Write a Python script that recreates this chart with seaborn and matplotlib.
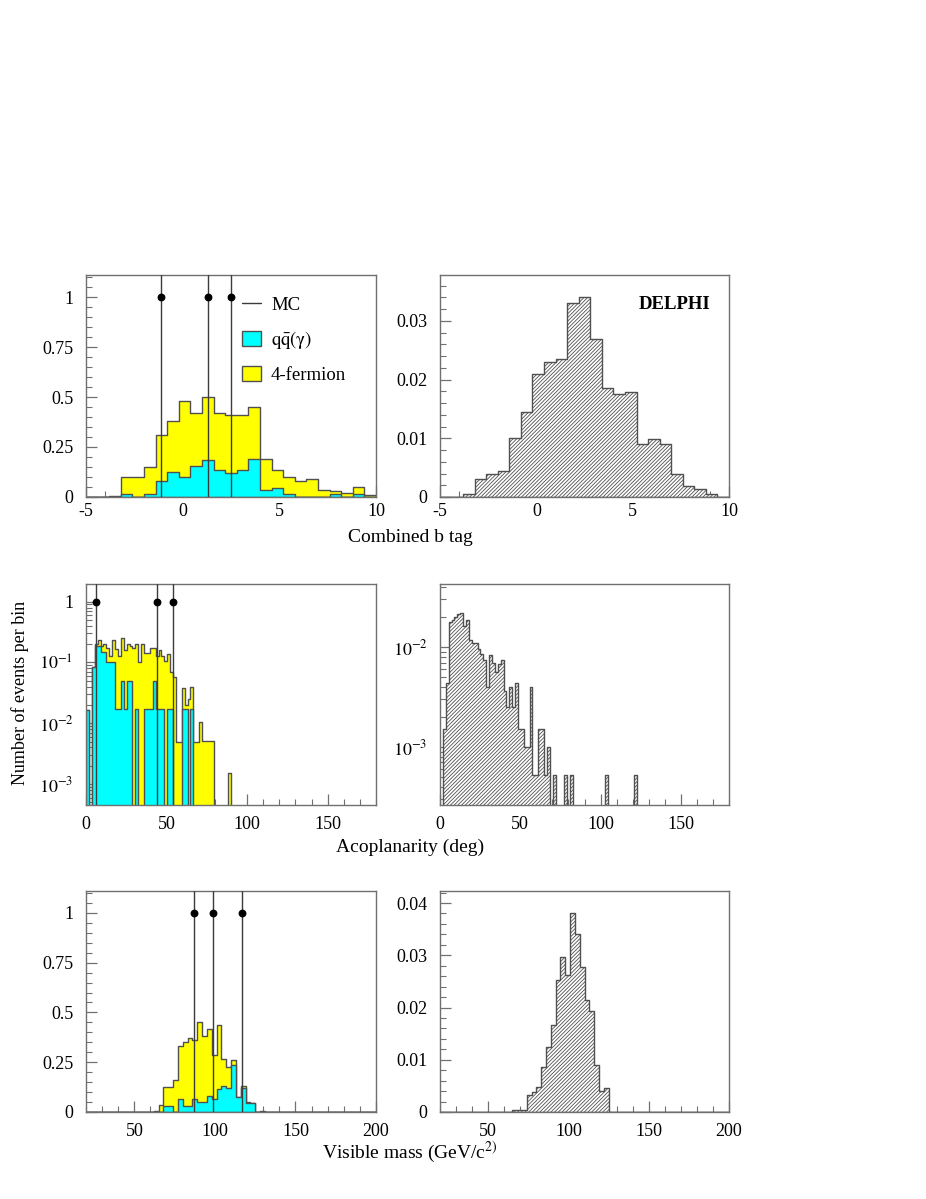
import numpy as np
import matplotlib
matplotlib.use("Agg")
import matplotlib.pyplot as plt
from matplotlib.lines import Line2D
from matplotlib.patches import Patch
from matplotlib.ticker import MultipleLocator, FixedLocator, FixedFormatter, NullFormatter, LogLocator
import seaborn as sns

# ---- combined b tag: 25 bins of 0.6 between -5 and 10
btag_edges = np.linspace(-5, 10, 26)
btag_total = [0, 0, 0.005, 0.10, 0.10, 0.148, 0.31, 0.38, 0.48, 0.42, 0.50, 0.42, 0.41,
              0.41, 0.45, 0.19, 0.135, 0.10, 0.08, 0.09, 0.035, 0.03, 0.02, 0.05, 0.01]
btag_qq = [0, 0, 0, 0.015, 0, 0.015, 0.08, 0.123, 0.10, 0.155, 0.185, 0.135, 0.118,
           0.135, 0.19, 0.035, 0.047, 0.015, 0, 0, 0, 0.015, 0, 0.015, 0]
btag_signal = [0, 0, 0.00045, 0.0030, 0.0039, 0.0045, 0.0100, 0.0144, 0.0210, 0.0230,
               0.0235, 0.0330, 0.0340, 0.0269, 0.0185, 0.0175, 0.0178, 0.0090, 0.0099,
               0.0090, 0.0040, 0.0019, 0.0014, 0.00045, 0]
btag_events = [-1.1, 1.3, 2.5]

# ---- acoplanarity: 100 bins of 1.8 deg between 0 and 180
acop_edges = np.linspace(0, 180, 101)
acop_total = [0.0163, 0, 0.083, 0.20, 0.234, 0.19, 0.20, 0.17, 0.13, 0.234,
              0.165, 0.13, 0.255, 0.16, 0.20, 0.187, 0.175, 0.20, 0.10, 0.20,
              0.146, 0.142, 0.175, 0.175, 0.128, 0.16, 0.128, 0.107, 0.137, 0.069,
              0.057, 0.005, 0.005, 0.038, 0.02, 0.025, 0.04, 0.005, 0.005, 0.0105,
              0.0052, 0.0052, 0.0052, 0.0052, 0, 0, 0, 0, 0, 0.0015,
              0, 0, 0, 0, 0, 0, 0, 0, 0, 0,
              0, 0, 0, 0, 0, 0, 0, 0, 0, 0,
              0, 0, 0, 0, 0, 0, 0, 0, 0, 0,
              0, 0, 0, 0, 0, 0, 0, 0, 0, 0,
              0, 0, 0, 0, 0, 0, 0, 0, 0, 0]
acop_qq = [0.0163, 0, 0.083, 0.19, 0.19, 0.15, 0.15, 0.10, 0.10, 0.10,
           0.017, 0.017, 0.05, 0.017, 0.05, 0.05, 0, 0.017, 0, 0,
           0.017, 0.017, 0.017, 0.05, 0.017, 0.017, 0.017, 0, 0.017, 0.017,
           0, 0, 0, 0.017, 0.017, 0, 0.017, 0, 0, 0,
           0, 0, 0, 0, 0, 0, 0, 0, 0, 0,
           0, 0, 0, 0, 0, 0, 0, 0, 0, 0,
           0, 0, 0, 0, 0, 0, 0, 0, 0, 0,
           0, 0, 0, 0, 0, 0, 0, 0, 0, 0,
           0, 0, 0, 0, 0, 0, 0, 0, 0, 0,
           0, 0, 0, 0, 0, 0, 0, 0, 0, 0]
acop_signal = [0, 0.0015, 0.0044, 0.0177, 0.0185, 0.0202, 0.0215, 0.022, 0.0163, 0.0185,
               0.0118, 0.011, 0.011, 0.0095, 0.0086, 0.0075, 0.0040, 0.0084, 0.0069, 0.0056,
               0.0067, 0.0074, 0.0036, 0.0025, 0.0040, 0.0025, 0.0044, 0.0015, 0.0015, 0.0010,
               0.0010, 0.0040, 0.00052, 0.00052, 0.0015, 0.0015, 0.00052, 0.0010, 0, 0.00052,
               0, 0, 0, 0.00052, 0, 0.00052, 0, 0, 0, 0,
               0, 0, 0, 0, 0, 0, 0, 0.00052, 0, 0,
               0, 0, 0, 0, 0, 0, 0, 0.00052, 0, 0,
               0, 0, 0, 0, 0, 0, 0, 0, 0, 0,
               0, 0, 0, 0, 0, 0, 0, 0, 0, 0,
               0, 0, 0, 0, 0, 0, 0, 0, 0, 0]
acop_events = [6.2, 43.9, 54.2]

# ---- visible mass: 60 bins of 3 GeV between 20 and 200
mass_edges = np.linspace(20, 200, 61)
mass_total = [0, 0, 0, 0, 0, 0, 0, 0, 0, 0,
              0, 0, 0, 0, 0.005, 0.035, 0.124, 0.124, 0.16, 0.33,
              0.353, 0.37, 0.36, 0.454, 0.38, 0.417, 0.286, 0.437, 0.266, 0.228,
              0.26, 0.077, 0.129, 0.052, 0.047, 0, 0.005, 0, 0, 0,
              0, 0, 0, 0, 0, 0, 0, 0, 0, 0,
              0, 0, 0, 0, 0, 0, 0, 0, 0, 0]
mass_qq = [0, 0, 0, 0, 0, 0, 0, 0, 0, 0,
           0, 0, 0, 0, 0, 0, 0.03, 0.03, 0, 0.064,
           0.03, 0.03, 0.064, 0.049, 0.049, 0.082, 0.064, 0.116, 0.131, 0.119,
           0.236, 0.075, 0.119, 0.044, 0.044, 0, 0, 0, 0, 0,
           0, 0, 0, 0, 0, 0, 0, 0, 0, 0,
           0, 0, 0, 0, 0, 0, 0, 0, 0, 0]
mass_signal = [0, 0, 0, 0, 0, 0, 0, 0, 0, 0,
               0, 0, 0, 0, 0, 0.00045, 0.00045, 0.00045, 0.0032, 0.0039,
               0.0048, 0.0086, 0.0125, 0.0166, 0.0252, 0.0296, 0.0262, 0.0381, 0.0341, 0.0277,
               0.0215, 0.0193, 0.0090, 0.0040, 0.0046, 0, 0, 0, 0, 0,
               0, 0, 0, 0, 0, 0, 0, 0, 0, 0,
               0, 0, 0, 0, 0, 0, 0, 0, 0, 0]
mass_events = [87.3, 99.1, 117.1]

event_level = 1.0

YELLOW = "#ffff00"
CYAN = "#00ffff"
EDGE = "#505050"
FRAME = "#707070"
HATCH = "/////////"

sns.set_style("white")
plt.rcParams["font.family"] = ["Liberation Serif", "DejaVu Serif"]
plt.rcParams["mathtext.fontset"] = "stix"
plt.rcParams["axes.unicode_minus"] = False
plt.rcParams["text.color"] = "black"
plt.rcParams["hatch.color"] = "#3a3a3a"
plt.rcParams["hatch.linewidth"] = 0.6

fig = plt.figure(figsize=(9.26, 11.99), dpi=100)

col_left = [86 / 926, 440 / 926]
col_width = [290 / 926, 289 / 926]
row_bottom = [1 - 497 / 1199, 1 - 805 / 1199, 1 - 1112 / 1199]
row_height = [222 / 1199, 221 / 1199, 221 / 1199]


def make_axes(row, col):
    return fig.add_axes([col_left[col], row_bottom[row], col_width[col], row_height[row]])


def hist(ax, edges, values, **kw):
    centers = (edges[:-1] + edges[1:]) / 2
    sns.histplot(x=centers, weights=values, bins=edges.tolist(), element="step", fill=True,
                 alpha=1, linewidth=1.0, ax=ax, legend=False, **kw)


def events(ax, xs):
    for x in xs:
        ax.axvline(x, color="#3c3c3c", lw=1.0, zorder=4)
    sns.scatterplot(x=xs, y=[event_level] * len(xs), color="black", s=32,
                    edgecolor="black", linewidth=0, zorder=5, ax=ax, legend=False)


def style(ax, xpad):
    ax.set_xlabel("")
    ax.set_ylabel("")
    for sp in ax.spines.values():
        sp.set_color(FRAME)
        sp.set_linewidth(1.0)
    ax.tick_params(which="both", direction="in", top=False, right=False,
                   bottom=True, left=True,
                   color=FRAME, labelsize=13, labelcolor="black")
    ax.tick_params(which="major", length=8, width=0.9)
    ax.tick_params(which="minor", length=4, width=0.8)
    ax.tick_params(axis="y", pad=9)
    ax.tick_params(axis="x", pad=xpad)


def lin_y(ax, top, major, minor, labels):
    ax.set_ylim(0, top)
    ax.yaxis.set_major_locator(FixedLocator(major))
    ax.yaxis.set_major_formatter(FixedFormatter(labels))
    ax.yaxis.set_minor_locator(MultipleLocator(minor))


def log_y(ax, lo, hi, major, labels):
    ax.set_yscale("log")
    ax.set_ylim(lo, hi)
    ax.yaxis.set_major_locator(FixedLocator(major))
    ax.yaxis.set_major_formatter(FixedFormatter(labels))
    ax.yaxis.set_minor_locator(LogLocator(base=10, subs=np.arange(2, 10), numticks=20))
    ax.yaxis.set_minor_formatter(NullFormatter())


def x_axis(ax, lo, hi, major, minor):
    ax.set_xlim(lo, hi)
    ax.xaxis.set_major_locator(FixedLocator(major))
    ax.xaxis.set_major_formatter(FixedFormatter([f"{m:g}" for m in major]))
    ax.xaxis.set_minor_locator(MultipleLocator(minor))


frac_labels = ["0", "0.25", "0.5", "0.75", "1"]
frac_ticks = [0, 0.25, 0.5, 0.75, 1.0]

# ---- row 1: b tag
ax = make_axes(0, 0)
hist(ax, btag_edges, btag_total, color=YELLOW, edgecolor=EDGE)
hist(ax, btag_edges, btag_qq, color=CYAN, edgecolor=EDGE)
events(ax, btag_events)
x_axis(ax, -5, 10, [-5, 0, 5, 10], 1)
lin_y(ax, 1.11, frac_ticks, 0.05, frac_labels)
style(ax, 4)
handles = [Line2D([], [], color="#3c3c3c", lw=1.0),
           Patch(facecolor=CYAN, edgecolor=EDGE),
           Patch(facecolor=YELLOW, edgecolor=EDGE)]
ax.legend(handles, ["MC", r"$\mathrm{q\bar{q}(\gamma)}$", "4-fermion"],
          frameon=False, loc="upper left", bbox_to_anchor=(0.538, 0.905),
          borderaxespad=0, borderpad=0, handlelength=1.0, handleheight=0.85,
          handletextpad=0.55, labelspacing=0.8, fontsize=13.5)

ax = make_axes(0, 1)
hist(ax, btag_edges, btag_signal, color="white", edgecolor=EDGE, hatch=HATCH)
x_axis(ax, -5, 10, [-5, 0, 5, 10], 1)
lin_y(ax, 0.0378, [0, 0.01, 0.02, 0.03], 0.002, ["0", "0.01", "0.02", "0.03"])
style(ax, 4)
ax.text(0.935, 0.865, "DELPHI", transform=ax.transAxes, ha="right", va="center",
        fontsize=13.5, fontweight="bold", color="black")

# ---- row 2: acoplanarity
log_labels = [r"$10^{-3}$", r"$10^{-2}$", r"$10^{-1}$", "1"]
ax = make_axes(1, 0)
hist(ax, acop_edges, acop_total, color=YELLOW, edgecolor=EDGE)
hist(ax, acop_edges, acop_qq, color=CYAN, edgecolor=EDGE)
events(ax, acop_events)
x_axis(ax, 0, 180, [0, 50, 100, 150], 10)
log_y(ax, 4.53e-4, 1.955, [1e-3, 1e-2, 1e-1, 1], log_labels)
style(ax, 8)

ax = make_axes(1, 1)
hist(ax, acop_edges, acop_signal, color="white", edgecolor=EDGE, hatch=HATCH)
x_axis(ax, 0, 180, [0, 50, 100, 150], 10)
log_y(ax, 2.63e-4, 0.0427, [1e-3, 1e-2], log_labels[:2])
style(ax, 8)

# ---- row 3: visible mass
ax = make_axes(2, 0)
hist(ax, mass_edges, mass_total, color=YELLOW, edgecolor=EDGE)
hist(ax, mass_edges, mass_qq, color=CYAN, edgecolor=EDGE)
events(ax, mass_events)
x_axis(ax, 20, 200, [50, 100, 150, 200], 10)
lin_y(ax, 1.11, frac_ticks, 0.05, frac_labels)
style(ax, 8)

ax = make_axes(2, 1)
hist(ax, mass_edges, mass_signal, color="white", edgecolor=EDGE, hatch=HATCH)
x_axis(ax, 20, 200, [50, 100, 150, 200], 10)
lin_y(ax, 0.0423, [0, 0.01, 0.02, 0.03, 0.04], 0.002,
      ["0", "0.01", "0.02", "0.03", "0.04"])
style(ax, 8)

# ---- shared axis titles
fig.text(410 / 926, 1 - 537 / 1199, "Combined b tag", ha="center", va="center", fontsize=14)
fig.text(410 / 926, 1 - 847 / 1199, "Acoplanarity (deg)", ha="center", va="center", fontsize=14)
fig.text(410 / 926, 1 - 1152 / 1199, r"Visible mass (GeV/c$^{2)}$", ha="center",
         va="center", fontsize=14)
fig.text(20 / 926, 1 - 693 / 1199, "Number of events per bin", rotation=90,
         ha="center", va="center", fontsize=13)

fig.savefig("out.png", dpi=100, facecolor="white")
